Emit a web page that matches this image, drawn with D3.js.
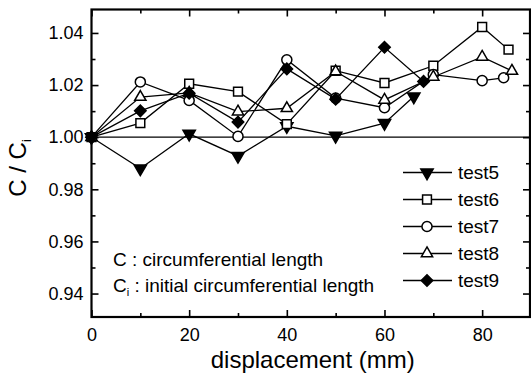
<!DOCTYPE html>
<html>
<head>
<meta charset="utf-8">
<script src="https://cdn.jsdelivr.net/npm/d3@7/dist/d3.min.js"></script>
<style>
  html, body { margin: 0; padding: 0; background: #fff; }
  svg { display: block; font-family: "Liberation Sans", Arial, Helvetica, sans-serif; }
</style>
</head>
<body>
<svg id="chart" width="531" height="376"></svg>
<script>
// Circumferential length ratio C / Ci versus displacement for five tests
const test5X = [0, 10, 20, 30, 40, 50, 60, 66];
const test5Y = [1.000, 0.988, 1.0013, 0.9928, 1.0042, 1.0005, 1.0054, 1.0156];

const test6X = [0, 10, 20, 30, 40, 50, 60, 70, 80, 85.4];
const test6Y = [1.000, 1.0054, 1.0205, 1.0175, 1.0050, 1.0255, 1.0208, 1.0274, 1.0423, 1.0336];

const test7X = [0, 10, 20, 30, 40, 50, 60, 70, 80, 84.4];
const test7Y = [1.000, 1.0212, 1.0141, 1.0003, 1.0297, 1.0150, 1.0113, 1.0240, 1.0217, 1.0228];

const test8X = [0, 10, 20, 30, 40, 50, 60, 70, 80, 86.1];
const test8Y = [1.000, 1.0154, 1.0170, 1.0098, 1.0111, 1.0252, 1.0143, 1.0231, 1.0308, 1.0254];

const test9X = [0, 10, 20, 30, 40, 50, 60, 68];
const test9Y = [1.000, 1.0101, 1.0169, 1.0058, 1.0262, 1.0146, 1.0345, 1.0214];

const seriesNames = ["test5", "test6", "test7", "test8", "test9"];
const xMajorTicks = [0, 20, 40, 60, 80];
const xMinorTicks = [10, 30, 50, 70];
const yMajorTicks = [0.94, 0.96, 0.98, 1.00, 1.02, 1.04];
const yMinorTicks = [0.95, 0.97, 0.99, 1.01, 1.03];
const xTitle = "displacement (mm)";
const noteLine1 = "C : circumferential length";
const noteLine2 = " : initial circumferential length";

const series = [
  { name: seriesNames[0], xs: test5X, ys: test5Y, shape: "tridown", fill: "#000" },
  { name: seriesNames[1], xs: test6X, ys: test6Y, shape: "square",  fill: "#fff" },
  { name: seriesNames[2], xs: test7X, ys: test7Y, shape: "circle",  fill: "#fff" },
  { name: seriesNames[3], xs: test8X, ys: test8Y, shape: "triup",   fill: "#fff" },
  { name: seriesNames[4], xs: test9X, ys: test9Y, shape: "diamond", fill: "#000" }
];

const svg = d3.select("#chart");
const plotLeft = 91.5, plotRight = 530, plotTop = 9.5, plotBottom = 317;

const x = d3.scaleLinear().domain([0, 89.8]).range([plotLeft, plotRight]);
const y = d3.scaleLinear().domain([0.931, 1.049]).range([plotBottom, plotTop]);

// reference line at ratio 1
svg.append("line")
  .attr("x1", plotLeft).attr("x2", plotRight)
  .attr("y1", y(1)).attr("y2", y(1))
  .attr("stroke", "#000").attr("stroke-width", 1.3);

// symbol generator
function symbolPath(shape) {
  switch (shape) {
    case "circle":  return d3.symbol(d3.symbolCircle, 80)();
    case "square":  return d3.symbol(d3.symbolSquare, 78)();
    case "triup":   return d3.symbol(d3.symbolTriangle, 55)();
    case "tridown": return d3.symbol(d3.symbolTriangle, 66)();
    case "diamond": return d3.symbol(d3.symbolSquare, 66)();
  }
}
function symbolRotate(shape) {
  if (shape === "tridown") return 180;
  if (shape === "diamond") return 45;
  return 0;
}

const line = d3.line().x(d => x(d[0])).y(d => y(d[1]));

series.forEach(s => {
  const pts = s.xs.map((v, i) => [v, s.ys[i]]);
  const g = svg.append("g");
  g.append("path")
    .attr("d", line(pts))
    .attr("fill", "none")
    .attr("stroke", "#000")
    .attr("stroke-width", 1.3);
  g.selectAll("path.m").data(pts).enter().append("path")
    .attr("class", "m")
    .attr("d", symbolPath(s.shape))
    .attr("transform", d => `translate(${x(d[0])},${y(d[1])}) rotate(${symbolRotate(s.shape)})`)
    .attr("fill", s.fill)
    .attr("stroke", "#000")
    .attr("stroke-width", 1.5);
});

// axes with inward ticks, mirrored on top and right
const fontSize = 18;
function styleAxis(g) {
  g.select(".domain").remove();
  g.selectAll(".tick line").attr("stroke", "#000").attr("stroke-width", 1.6);
  g.selectAll("text").attr("fill", "#000").style("font-size", fontSize + "px");
}

svg.append("g").attr("transform", `translate(0,${plotBottom})`)
  .call(d3.axisBottom(x).tickValues(xMajorTicks).tickFormat(d3.format("d"))
    .tickSizeInner(-7).tickSizeOuter(0).tickPadding(11))
  .call(styleAxis);
svg.append("g").attr("transform", `translate(0,${plotBottom})`)
  .call(d3.axisBottom(x).tickValues(xMinorTicks).tickFormat("")
    .tickSizeInner(-4).tickSizeOuter(0))
  .call(styleAxis);
svg.append("g").attr("transform", `translate(0,${plotTop})`)
  .call(d3.axisTop(x).tickValues(xMajorTicks).tickFormat("")
    .tickSizeInner(-7).tickSizeOuter(0))
  .call(styleAxis);
svg.append("g").attr("transform", `translate(0,${plotTop})`)
  .call(d3.axisTop(x).tickValues(xMinorTicks).tickFormat("")
    .tickSizeInner(-4).tickSizeOuter(0))
  .call(styleAxis);

svg.append("g").attr("transform", `translate(${plotLeft},0)`)
  .call(d3.axisLeft(y).tickValues(yMajorTicks).tickFormat(d3.format(".2f"))
    .tickSizeInner(-7).tickSizeOuter(0).tickPadding(8))
  .call(styleAxis);
svg.append("g").attr("transform", `translate(${plotLeft},0)`)
  .call(d3.axisLeft(y).tickValues(yMinorTicks).tickFormat("")
    .tickSizeInner(-4).tickSizeOuter(0))
  .call(styleAxis);
svg.append("g").attr("transform", `translate(${plotRight},0)`)
  .call(d3.axisRight(y).tickValues(yMajorTicks).tickFormat("")
    .tickSizeInner(-7).tickSizeOuter(0))
  .call(styleAxis);
svg.append("g").attr("transform", `translate(${plotRight},0)`)
  .call(d3.axisRight(y).tickValues(yMinorTicks).tickFormat("")
    .tickSizeInner(-4).tickSizeOuter(0))
  .call(styleAxis);

// frame
svg.append("rect")
  .attr("x", plotLeft).attr("y", plotTop)
  .attr("width", plotRight - plotLeft).attr("height", plotBottom - plotTop)
  .attr("fill", "none").attr("stroke", "#000").attr("stroke-width", 2.2);

// axis titles
svg.append("text")
  .attr("x", (plotLeft + plotRight) / 2 + 2).attr("y", 368)
  .attr("text-anchor", "middle")
  .style("font-size", "24px")
  .text(xTitle);

const yt = svg.append("text")
  .attr("transform", "translate(26,168) rotate(-90)")
  .attr("text-anchor", "middle")
  .style("font-size", "24px");
yt.append("tspan").text("C / C");
yt.append("tspan").attr("dy", 5).style("font-size", "13px").text("i");

// annotation
svg.append("text")
  .attr("x", 113).attr("y", 266)
  .style("font-size", "19px")
  .text(noteLine1);
const n2 = svg.append("text")
  .attr("x", 113).attr("y", 292)
  .style("font-size", "19px");
n2.append("tspan").text("C");
n2.append("tspan").attr("dy", 4).style("font-size", "11px").text("i");
n2.append("tspan").attr("dy", -4).text(noteLine2);

// legend
const legend = svg.append("g");
series.forEach((s, i) => {
  const cy = 172.5 + i * 27;
  legend.append("line")
    .attr("x1", 403).attr("x2", 452).attr("y1", cy).attr("y2", cy)
    .attr("stroke", "#000").attr("stroke-width", 1.3);
  legend.append("path")
    .attr("d", symbolPath(s.shape))
    .attr("transform", `translate(427,${cy}) rotate(${symbolRotate(s.shape)})`)
    .attr("fill", s.fill).attr("stroke", "#000").attr("stroke-width", 1.5);
  legend.append("text")
    .attr("x", 458).attr("y", cy).attr("dy", "0.35em")
    .style("font-size", "19px")
    .text(s.name);
});
</script>
</body>
</html>
